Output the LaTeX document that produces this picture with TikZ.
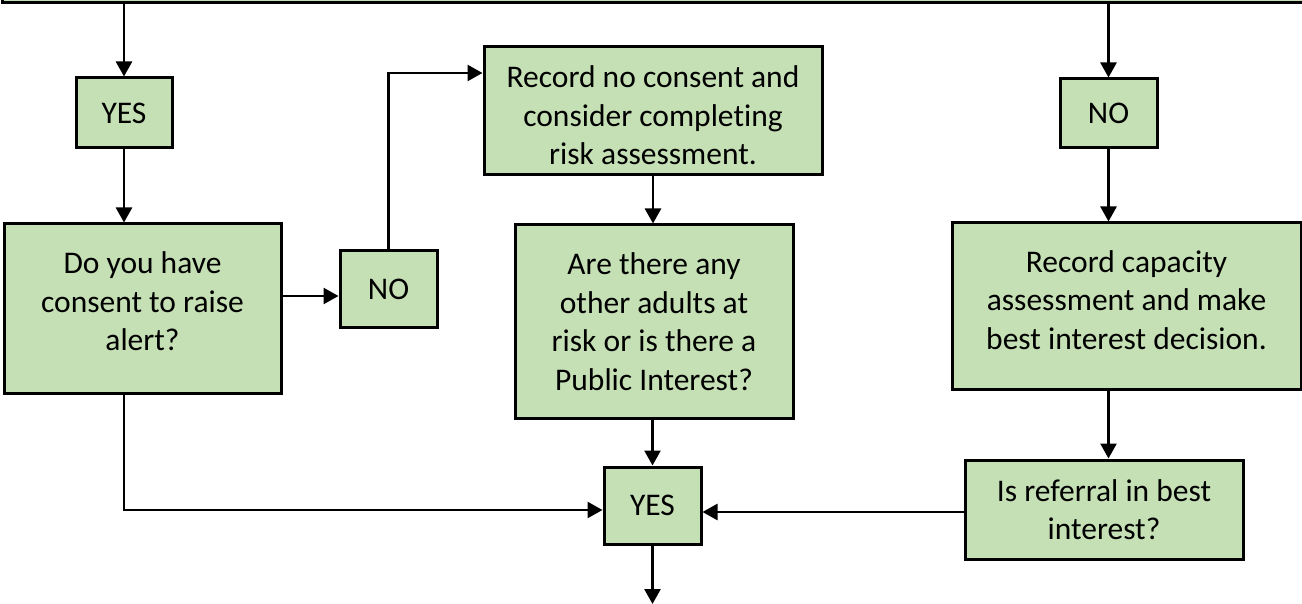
\documentclass[tikz,border=0pt]{standalone}
\usepackage{fontspec}
\setmainfont{Carlito}[Ligatures=NoCommon]
\usetikzlibrary{arrows.meta}
\definecolor{boxgreen}{HTML}{C5E0B4}
\tikzset{
  box/.style={draw=black, fill=boxgreen, line width=3pt, align=center, inner sep=0pt,
    font=\fontsize{31.5}{38.5}\selectfont},
  arr/.style={line width=2.6pt, -{Triangle[length=15pt,width=16pt]}},
}
\begin{document}
\begin{tikzpicture}[x=1pt,y=-1pt]
\useasboundingbox (0,0) rectangle (1302,604);
\clip (0,0) rectangle (1302,604);
\node[box, minimum width=1320pt, minimum height=60pt] (top) at (662,-27) {};
\node[box, minimum width=96pt, minimum height=70pt] (yes1) at (124,113) {YES};
\node[box, minimum width=277pt, minimum height=169pt] (do) at (142.5,308.5) {Do you have\\consent to raise\\alert?\\[-24pt]};
\node[box, minimum width=97pt, minimum height=76pt] (no1) at (388.5,289) {NO};
\node[box, minimum width=338pt, minimum height=128pt] (rec) at (653,111) {Record no consent and\\consider completing\\risk assessment.\\[-47pt]};
\node[box, minimum width=278pt, minimum height=193pt] (are) at (654,321.5) {Are there any\\other adults at\\risk or is there a\\Public Interest?};
\node[box, minimum width=97pt, minimum height=77pt] (yes2) at (652.5,505.5) {YES};
\node[box, minimum width=97pt, minimum height=69pt] (no2) at (1108.5,113.5) {NO};
\node[box, minimum width=349pt, minimum height=166pt] (cap) at (1126.5,306) {Record capacity\\assessment and make\\best interest decision.\\[-26pt]};
\node[box, minimum width=278pt, minimum height=99pt] (ref) at (1104,509.5) {Is referral in best\\interest?};
\coordinate (out) at (652.5,604);

\draw[arr] (yes1.north |- top.south) -- (yes1.north);
\draw[arr] (no2.north |- top.south) -- (no2.north);
\draw[arr] (yes1.south) -- (do.north -| yes1.south);
\draw[arr] (do.east |- 0,296) -- (no1.west |- 0,296);
\draw[arr] (no1.north) |- (rec.west |- 0,73);
\draw[arr] (rec.south) -- (are.north -| rec.south);
\draw[arr] (are.south -| yes2.north) -- (yes2.north);
\draw[arr] (do.south -| yes1.south) |- (yes2.west |- 0,510);
\draw[arr] (ref.west |- 0,512) -- (yes2.east |- 0,512);
\draw[arr] (yes2.south) -- (out);
\draw[arr] (no2.south) -- (cap.north -| no2.south);
\draw[arr] (cap.south -| no2.south) -- (ref.north -| no2.south);
\end{tikzpicture}
\end{document}
